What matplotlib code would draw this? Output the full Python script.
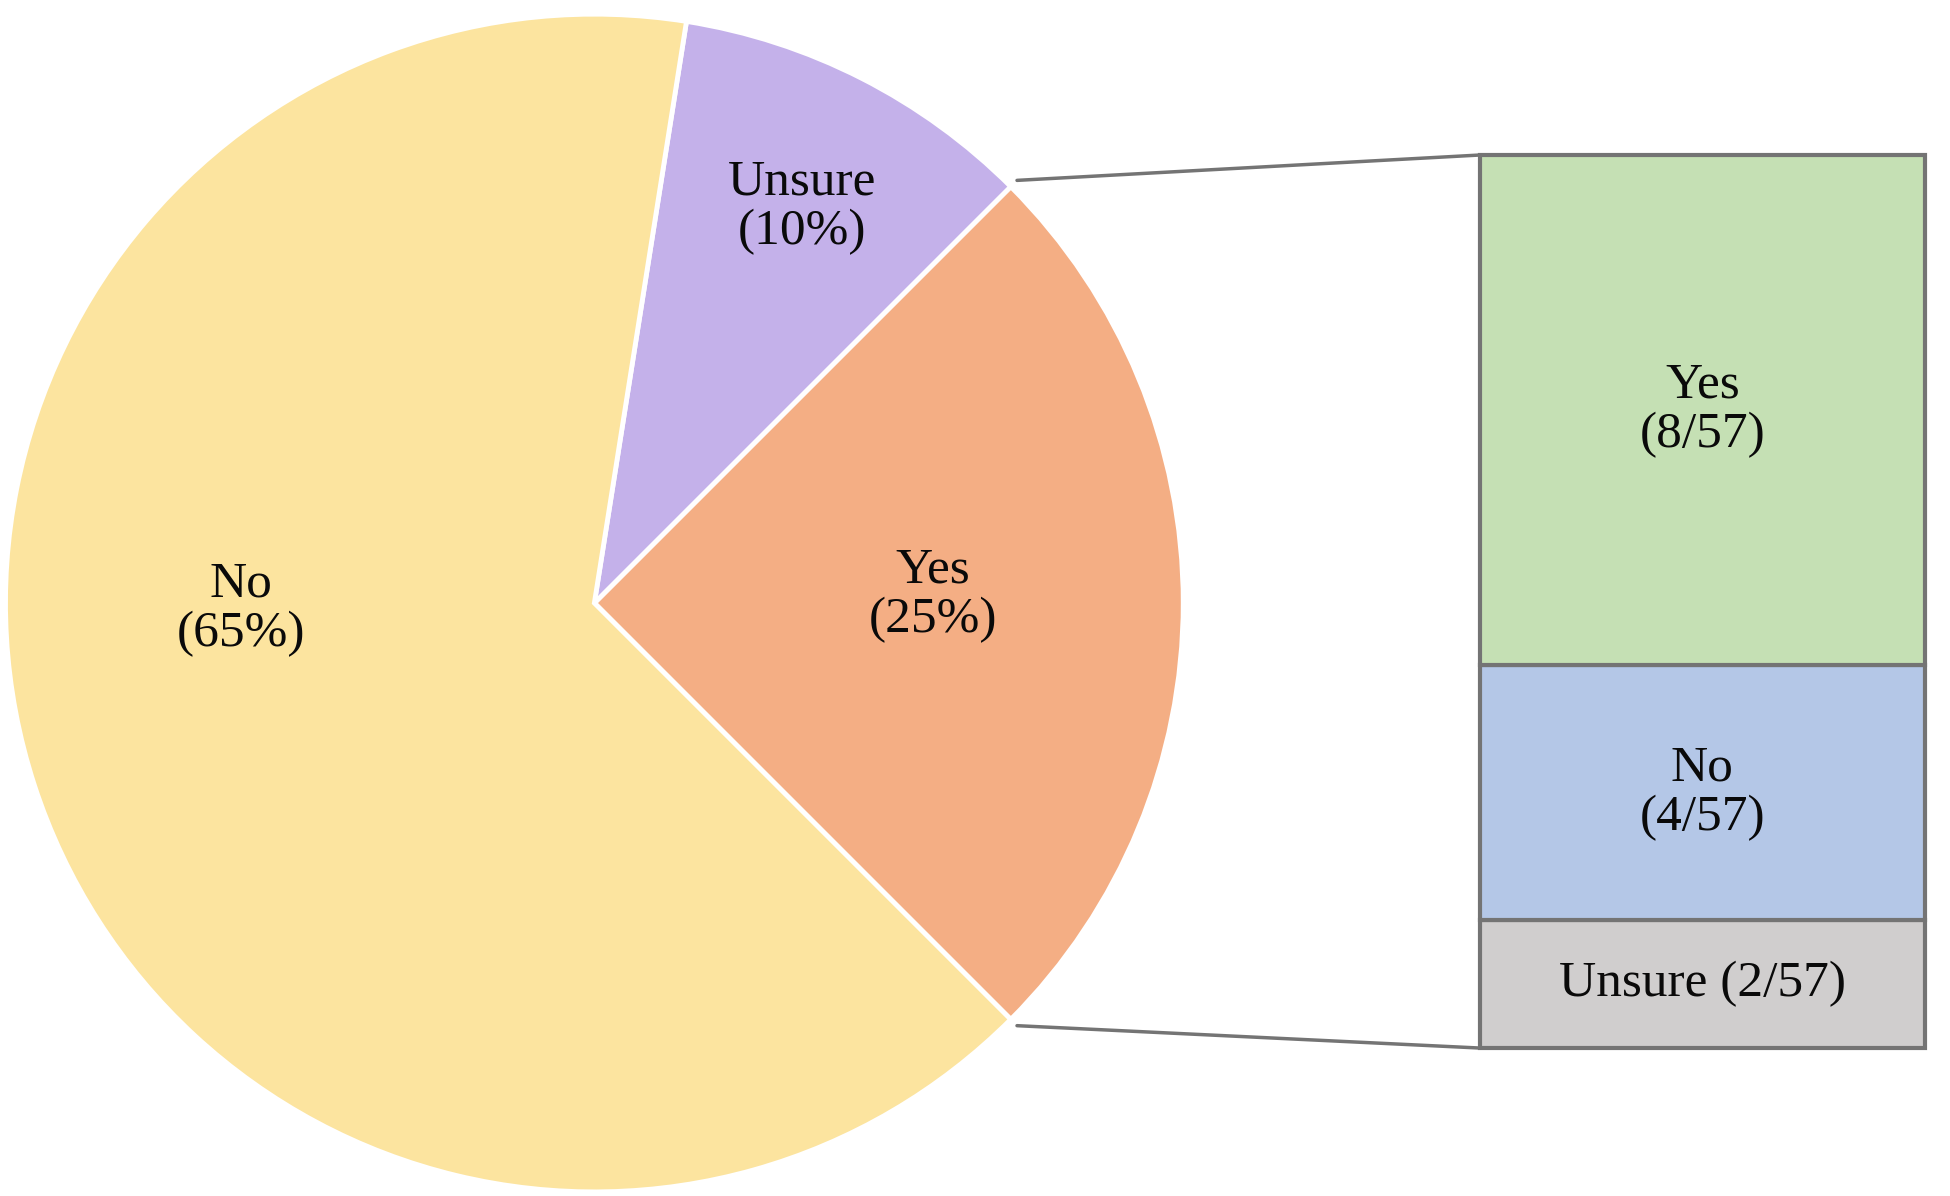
import matplotlib
matplotlib.use("Agg")
import matplotlib.pyplot as plt
from matplotlib.patches import ConnectionPatch
import numpy as np

# pie data (overall answers)
pie_labels = ["Yes", "Unsure", "No"]
pie_pcts = [25, 10, 65]
pie_colors = ["#F4AE84", "#C4B1EA", "#FCE49F"]

# breakdown of the "Yes" slice, stacked from bottom to top
bar_labels = ["Unsure (2/57)", "No\n(4/57)", "Yes\n(8/57)"]
bar_counts = [2, 4, 8]
bar_colors = ["#D0CECE", "#B4C7E7", "#C5E0B4"]

plt.rcParams['font.family'] = ['Liberation Serif', 'DejaVu Serif']
FS = 37
TXT = "#0A0A0A"

fig = plt.figure(figsize=(19.5, 11.96), dpi=100)
ax1 = fig.add_axes([0.0013, 0.0008, 0.607, 0.99])
ax2 = fig.add_axes([0.759, 0.1237, 0.228, 0.7467])

wedges, _ = ax1.pie(pie_pcts, colors=pie_colors, startangle=-45, counterclock=True,
                    radius=1, wedgeprops=dict(edgecolor="white", linewidth=3.5))
ax1.set_xlim(-1.005, 1.005)
ax1.set_ylim(-1.005, 1.005)
ax1.set_aspect("equal")
ax1.axis("off")

# label positions inside slices (pie radius units)
label_pos = [(0.575, 0.013), (0.352, 0.672), (-0.6, -0.01)]
for lab, pct, (x, y) in zip(pie_labels, pie_pcts, label_pos):
    ax1.text(x, y, f"{lab}\n({pct}%)", ha="center", va="center",
             fontsize=FS, linespacing=1.08, color=TXT)

# stacked bar
bottom = 0
for lab, cnt, col in zip(bar_labels, bar_counts, bar_colors):
    ax2.bar(0, cnt, width=1, bottom=bottom, color=col, edgecolor="#747474",
            linewidth=3, clip_on=False)
    ax2.text(0, bottom + cnt / 2, lab, ha="center", va="center",
             fontsize=FS, linespacing=1.08, color=TXT)
    bottom += cnt
ax2.set_xlim(-0.5, 0.5)
ax2.set_ylim(0, sum(bar_counts))
ax2.axis("off")

# connecting lines from the "Yes" wedge to the bar
w = wedges[0]
for ang, yb in [(w.theta2, sum(bar_counts)), (w.theta1, 0)]:
    x = 1.015 * np.cos(np.radians(ang))
    y = 1.015 * np.sin(np.radians(ang))
    con = ConnectionPatch(xyA=(-0.5, yb), coordsA=ax2.transData,
                          xyB=(x, y), coordsB=ax1.transData,
                          color="#747474", linewidth=2.5)
    fig.add_artist(con)

fig.savefig("out.png", dpi=100, facecolor="white")
